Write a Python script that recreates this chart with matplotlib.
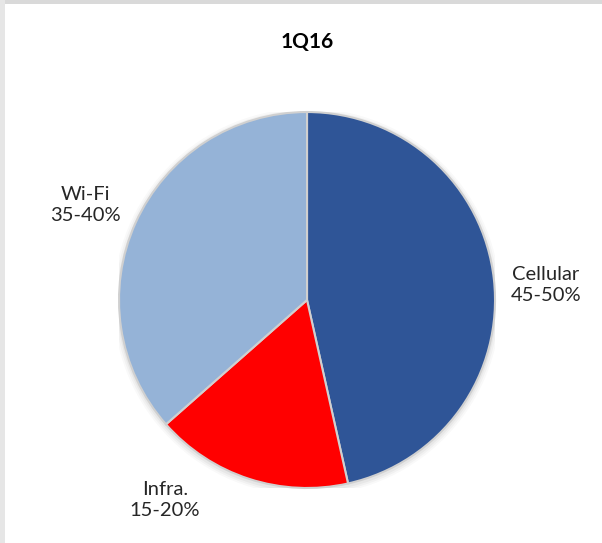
import matplotlib.pyplot as plt
from matplotlib.patches import Circle, Rectangle

segments = ["Cellular", "Infra.", "Wi-Fi"]
shares = [46.5, 17.0, 36.5]
range_labels = ["45-50%", "15-20%", "35-40%"]
colors = ["#2F5597", "#FF0000", "#95B3D7"]

plt.rcParams['font.family'] = ['Lato', 'DejaVu Sans']

fig = plt.figure(figsize=(6.02, 5.43), dpi=100)
ax = fig.add_axes([0.1977, 0.1013, 0.6246, 0.6924])

# soft shadow behind the pie
for r, a in [(1.03, 0.025), (1.02, 0.03), (1.01, 0.04)]:
    ax.add_patch(Circle((0.0, -0.01), r, color="black", alpha=a, lw=0, zorder=0))

ax.pie(shares, colors=colors, startangle=90, counterclock=False,
       wedgeprops=dict(edgecolor="#D0D0D0", linewidth=1.5), radius=1)

# label positions in pie units (radius = 1)
label_pos = [(1.27, 0.08), (-0.755, -1.065), (-1.18, 0.505)]
for name, rng, (x, y) in zip(segments, range_labels, label_pos):
    ax.text(x, y, name + "\n" + rng, ha="center", va="center",
            fontsize=14.5, color="#262626", linespacing=1.25)

ax.set_xlim(-1.0, 1.0)
ax.set_ylim(-1.0, 1.0)
ax.set_aspect("auto")
ax.axis("off")

fig.text(0.51, 0.922, "1Q16", ha="center", va="center", fontsize=15,
         fontweight="bold", color="black")

# light frame on top and left edges
fig.patches.append(Rectangle((0, 0.992), 1, 0.008, transform=fig.transFigure,
                             color="#D9D9D9", lw=0))
fig.patches.append(Rectangle((0, 0), 0.008, 1, transform=fig.transFigure,
                             color="#E6E6E6", lw=0))

fig.savefig("out.png", dpi=100)
